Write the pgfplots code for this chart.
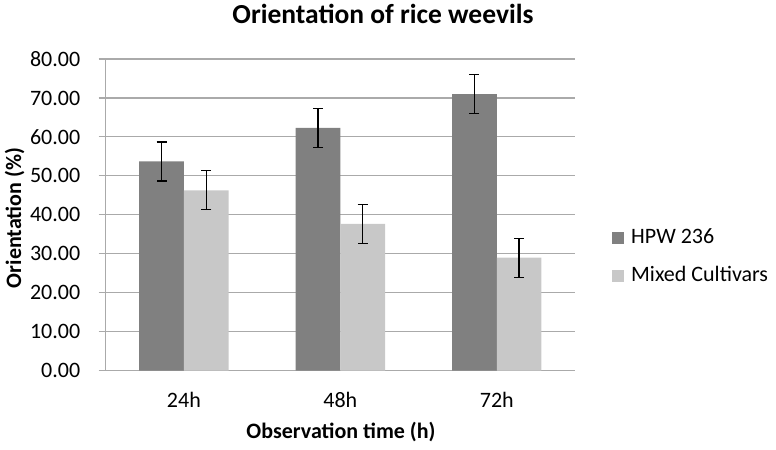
\documentclass[border=0pt]{standalone}
\usepackage{pgfplots}
\pgfplotsset{compat=1.18}
\usepackage{fontspec}
\setmainfont{Carlito}
\definecolor{darkbar}{HTML}{808080}
\definecolor{lightbar}{HTML}{C8C8C8}
\definecolor{gridgray}{HTML}{AAAAAA}
\begin{document}
\begin{tikzpicture}
\path[use as bounding box] (0,0) rectangle (776bp,450bp);
\begin{axis}[
  at={(105.7bp,79.3bp)}, anchor=south west,
  scale only axis, width=469.3bp, height=311.7bp,
  ybar=0pt, bar width=44.7bp,
  xmin=-0.5, xmax=2.5, ymin=0, ymax=80,
  xtick=data, xticklabels={24h,48h,72h},
  major x tick style={draw=none},
  ytick distance=10,
  ymajorgrids, grid style={gridgray, line width=1.1bp},
  axis line style={gridgray, line width=1.1bp},
  axis x line*=bottom, axis y line*=left,
  y axis line style={-}, x axis line style={-},
  ytick style={gridgray, line width=1.1bp},
  major tick length=7bp, tick align=outside,
  /pgf/number format/assume math mode=true,
  /pgf/number format/fixed, /pgf/number format/fixed zerofill,
  /pgf/number format/precision=2,
  ticklabel style={font=\fontsize{22bp}{26bp}\selectfont},
  xticklabel style={anchor=base, yshift=-30bp},
  yticklabel style={xshift=-15bp},
  legend style={at={(1.0788,0.3696)}, anchor=west, draw=none, fill=none,
    inner sep=0pt, nodes={inner sep=0pt, anchor=base west},
    font=\fontsize{22bp}{26bp}\selectfont, row sep=21bp, column sep=7bp},
  legend cell align=left,
  legend image code/.code={\fill[#1] (0bp,-1bp) rectangle (12bp,11bp);},
  error bars/y dir=both, error bars/y explicit,
  error bars/error bar style={black, line width=1.3bp},
  error bars/error mark options={black, rotate=90, mark size=5bp, line width=1.3bp},
]
\addplot[fill=darkbar, draw=none] coordinates {
  (0,53.7) +- (0,5.0)
  (1,62.3) +- (0,5.0)
  (2,71.0) +- (0,5.0)
};
\addlegendentry{HPW 236}
\addplot[fill=lightbar, draw=none] coordinates {
  (0,46.3) +- (0,5.0)
  (1,37.7) +- (0,5.0)
  (2,29.0) +- (0,5.0)
};
\addlegendentry{Mixed Cultivars}
\end{axis}
\node[anchor=base, font=\bfseries\fontsize{27.5bp}{32bp}\selectfont] at (383bp,426.7bp) {Orientation of rice weevils};
\node[anchor=base, font=\bfseries\fontsize{22bp}{26bp}\selectfont] at (341bp,12bp) {Observation time (h)};
\node[anchor=base, font=\bfseries\fontsize{22bp}{26bp}\selectfont, rotate=90] at (21bp,232bp) {Orientation (\%)};
\end{tikzpicture}
\end{document}
